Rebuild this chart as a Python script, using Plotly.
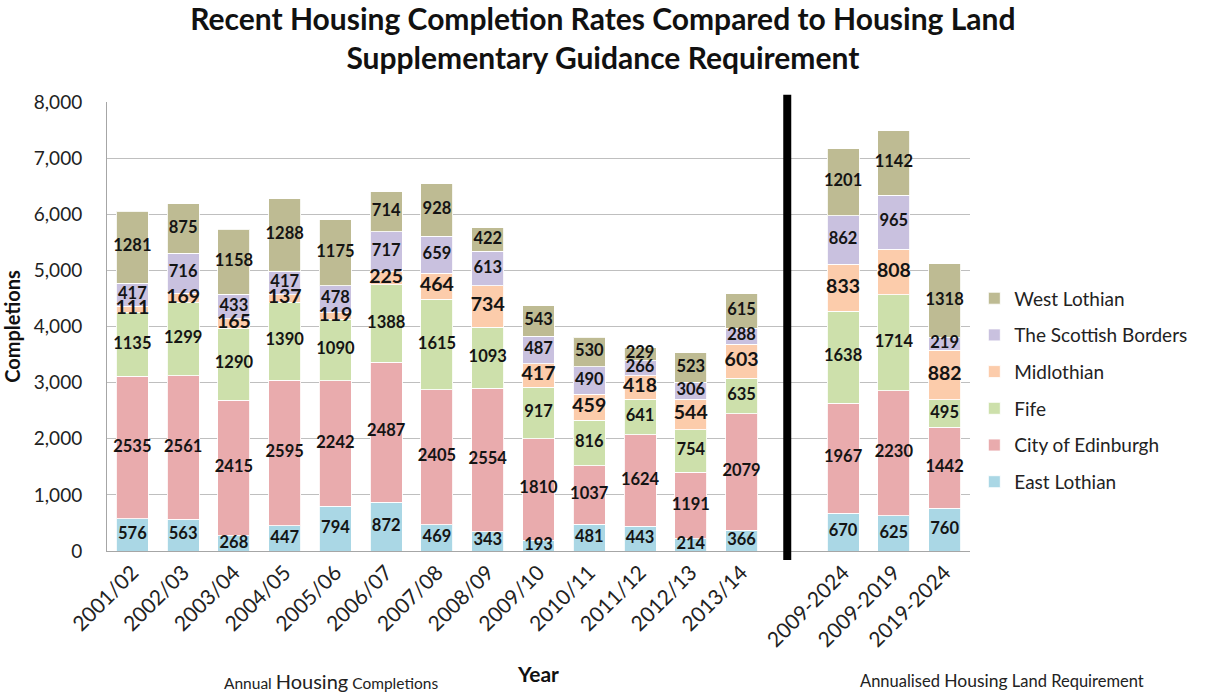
import plotly.graph_objects as go

# Categories: annual completions, an empty slot for the divider, then the requirement periods
years = ["2001/02", "2002/03", "2003/04", "2004/05", "2005/06", "2006/07", "2007/08",
         "2008/09", "2009/10", "2010/11", "2011/12", "2012/13", "2013/14"]
divider = " "
periods = ["2009-2024", "2009-2019", "2019-2024"]
categories = years + [divider] + periods

# Completions by council area (None in the divider slot)
east_lothian = [576, 563, 268, 447, 794, 872, 469, 343, 193, 481, 443, 214, 366, None, 670, 625, 760]
city_of_edinburgh = [2535, 2561, 2415, 2595, 2242, 2487, 2405, 2554, 1810, 1037, 1624, 1191, 2079, None, 1967, 2230, 1442]
fife = [1135, 1299, 1290, 1390, 1090, 1388, 1615, 1093, 917, 816, 641, 754, 635, None, 1638, 1714, 495]
midlothian = [111, 169, 165, 137, 119, 225, 464, 734, 417, 459, 418, 544, 603, None, 833, 808, 882]
scottish_borders = [417, 716, 433, 417, 478, 717, 659, 613, 487, 490, 266, 306, 288, None, 862, 965, 219]
west_lothian = [1281, 875, 1158, 1288, 1175, 714, 928, 422, 543, 530, 229, 523, 615, None, 1201, 1142, 1318]

series = [
    ("East Lothian", east_lothian, "#aad7e5", 16.5),
    ("City of Edinburgh", city_of_edinburgh, "#e9abad", 16.5),
    ("Fife", fife, "#cde0ab", 16.5),
    ("Midlothian", midlothian, "#fcccab", 19.5),
    ("The Scottish Borders", scottish_borders, "#c9c1df", 16.5),
    ("West Lothian", west_lothian, "#bebb93", 16.5),
]

FONT = "Lato"
TEXT = "#141414"

fig = go.Figure()

# Stacked bars; legend lists the top segment first, one group per area for spacing
for k, (name, values, colour, _) in enumerate(series):
    fig.add_trace(go.Bar(
        x=categories, y=values, name=name, legendgroup=name, legendrank=len(series) - k,
        marker=dict(color=colour, line=dict(color="rgba(255,255,255,0.85)", width=1)),
        hoverinfo="skip",
    ))

# Segment value labels, centred on each segment, drawn above all bars
base = [0] * len(categories)
for name, values, colour, size in series:
    mids, texts = [], []
    for i, v in enumerate(values):
        if v is None:
            mids.append(None)
            texts.append("")
        else:
            mids.append(base[i] + v / 2)
            texts.append(str(v))
            base[i] += v
    fig.add_trace(go.Scatter(
        x=categories, y=mids, mode="text", text=texts,
        textfont=dict(family=FONT, size=size, color=TEXT, weight="bold"),
        showlegend=False, hoverinfo="skip", cliponaxis=False,
    ))

# Thick divider between annual completions and requirement periods
div_idx = categories.index(divider)
fig.add_shape(type="line", xref="x", yref="paper",
              x0=div_idx - 0.1, x1=div_idx - 0.1, y0=-0.02, y1=1.016,
              line=dict(color="black", width=8))

fig.add_annotation(text="Annual <span style='font-size:20px'>Housing</span> Completions",
                   xref="paper", yref="paper", x=(331 - 107) / 863, y=(551 - 695) / 449,
                   xanchor="center", yanchor="bottom", showarrow=False,
                   font=dict(family=FONT, size=15.5, color="#222"))
fig.add_annotation(text="Annualised <span style='font-size:17.5px'>Housing</span> Land Requirement",
                   xref="paper", yref="paper", x=(1002 - 107) / 863, y=(551 - 693) / 449,
                   xanchor="center", yanchor="bottom", showarrow=False,
                   font=dict(family=FONT, size=16.5, color="#222"))

fig.update_layout(
    width=1213, height=697,
    margin=dict(l=107, r=243, t=102, b=146),
    paper_bgcolor="white", plot_bgcolor="white",
    barmode="stack", bargap=0.37,
    font=dict(family=FONT, color=TEXT),
    title=dict(
        text="Recent Housing Completion Rates Compared to Housing Land<br>Supplementary Guidance Requirement",
        x=0.497, xanchor="center", y=0.957, yanchor="top",
        font=dict(family=FONT, size=30, color="#111", weight="bold"),
    ),
    legend=dict(
        x=1.005, xanchor="left", y=0.605, yanchor="top",
        traceorder="grouped", tracegroupgap=9,
        font=dict(family=FONT, size=19, color="#222"),
        bgcolor="rgba(0,0,0,0)",
    ),
    xaxis=dict(
        categoryorder="array", categoryarray=categories,
        range=[-0.5, len(categories) - 0.5],
        tickangle=-45, tickfont=dict(family=FONT, size=21, color="#222"),
        showline=True, linecolor="#a6a6a6", linewidth=1,
        showgrid=False, ticks="",
        title=dict(text="Year", font=dict(family=FONT, size=21, color="#111", weight="bold"), standoff=16),
        automargin=False,
    ),
    yaxis=dict(
        range=[0, 8000], dtick=1000, tickformat=",",
        tickfont=dict(family=FONT, size=19, color="#222"),
        showline=True, linecolor="#a6a6a6", linewidth=1,
        gridcolor="#bfbfbf", gridwidth=1, zeroline=False,
        ticks="", ticklabelstandoff=20,
        title=dict(text="Completions", font=dict(family=FONT, size=20, color="#111", weight="bold"), standoff=8),
        automargin=False,
    ),
)

fig.write_html("out.html")
